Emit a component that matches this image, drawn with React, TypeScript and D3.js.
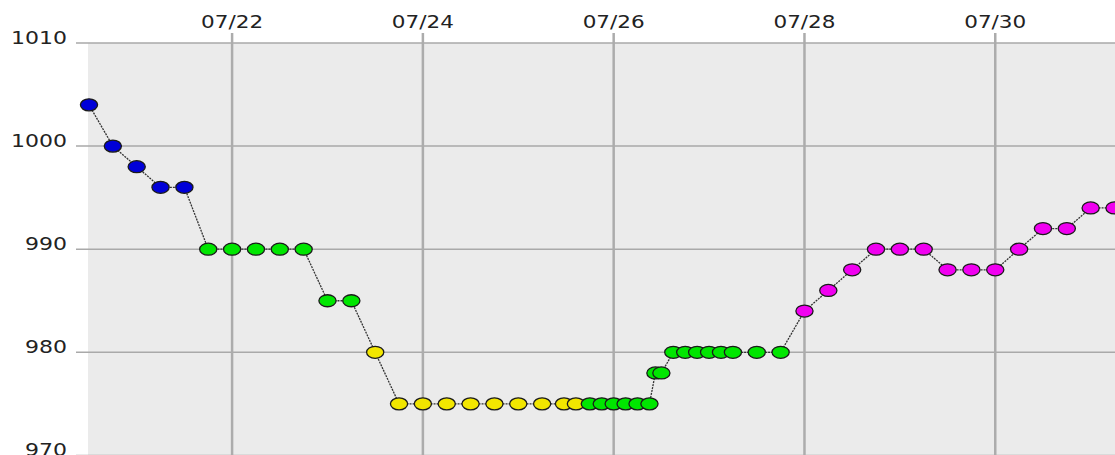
import React from "react"
import * as d3 from "d3"

// observation times (UTC), pressure (hPa) and the colour class of each point
const times = [
  "2024-07-20T12:00", "2024-07-20T18:00", "2024-07-21T00:00", "2024-07-21T06:00",
  "2024-07-21T12:00", "2024-07-21T18:00", "2024-07-22T00:00", "2024-07-22T06:00",
  "2024-07-22T12:00", "2024-07-22T18:00", "2024-07-23T00:00", "2024-07-23T06:00",
  "2024-07-23T12:00", "2024-07-23T18:00", "2024-07-24T00:00", "2024-07-24T06:00",
  "2024-07-24T12:00", "2024-07-24T18:00", "2024-07-25T00:00", "2024-07-25T06:00",
  "2024-07-25T11:30", "2024-07-25T14:30", "2024-07-25T18:00", "2024-07-25T21:00",
  "2024-07-26T00:00", "2024-07-26T03:00", "2024-07-26T06:00", "2024-07-26T09:00",
  "2024-07-26T10:30", "2024-07-26T12:00", "2024-07-26T15:00", "2024-07-26T18:00",
  "2024-07-26T21:00", "2024-07-27T00:00", "2024-07-27T03:00", "2024-07-27T06:00",
  "2024-07-27T12:00", "2024-07-27T18:00", "2024-07-28T00:00", "2024-07-28T06:00",
  "2024-07-28T12:00", "2024-07-28T18:00", "2024-07-29T00:00", "2024-07-29T06:00",
  "2024-07-29T12:00", "2024-07-29T18:00", "2024-07-30T00:00", "2024-07-30T06:00",
  "2024-07-30T12:00", "2024-07-30T18:00", "2024-07-31T00:00", "2024-07-31T06:00",
]

const pressure = [
  1004, 1000, 998, 996, 996, 990, 990, 990, 990, 990, 985, 985, 980,
  975, 975, 975, 975, 975, 975, 975, 975, 975, 975, 975, 975, 975, 975, 975,
  978, 978, 980, 980, 980, 980, 980, 980, 980, 980,
  984, 986, 988, 990, 990, 990, 988, 988, 988, 990, 992, 992, 994, 994,
]

const grade = [
  "b", "b", "b", "b", "b", "g", "g", "g", "g", "g", "g", "g", "y",
  "y", "y", "y", "y", "y", "y", "y", "y", "y", "g", "g", "g", "g", "g", "g",
  "g", "g", "g", "g", "g", "g", "g", "g", "g", "g",
  "m", "m", "m", "m", "m", "m", "m", "m", "m", "m", "m", "m", "m", "m",
]

const gradeColors = { b: "#0000d8", g: "#00e600", y: "#f2e600", m: "#f000f0" }

const yTicks = [970, 980, 990, 1000, 1010]
const xTickDays = ["2024-07-22", "2024-07-24", "2024-07-26", "2024-07-28", "2024-07-30"]

const width = 1115
const height = 455
const plotLeft = 88
const plotTop = 43

const parse = s => new Date(s + "Z")

const App = () => {
  const data = times.map((t, i) => ({ t: parse(t), p: pressure[i], g: grade[i] }))

  const x = d3
    .scaleUtc()
    .domain([parse("2024-07-20T12:00"), parse("2024-07-31T06:00")])
    .range([89, 1114.5])

  const y = d3.scaleLinear().domain([970, 1010]).range([455.4, 43])

  const fmt = d3.utcFormat("%m/%d")
  const xTicks = xTickDays.map(d => parse(d + "T00:00"))

  const line = d3
    .line()
    .x(d => x(d.t))
    .y(d => y(d.p))

  const font = "'DejaVu Sans', Verdana, sans-serif"

  return (
    <svg
      width={width}
      height={height}
      style={{ position: "absolute", left: 0, top: 0, display: "block", background: "#fff" }}
    >
      <rect x={plotLeft} y={plotTop} width={width - plotLeft} height={height - plotTop} fill="#ebebeb" />

      {/* horizontal grid + y labels */}
      {yTicks.map(v => (
        <g key={v}>
          <line x1={76} x2={width} y1={y(v)} y2={y(v)} stroke="#a9a9a9" strokeWidth={1.5} />
          <text
            x={67}
            y={y(v) + 0.5}
            textAnchor="end"
            fontFamily={font}
            fontSize={17}
            fill="#222"
            textLength={String(v).length * 14}
            lengthAdjust="spacingAndGlyphs"
          >
            {v}
          </text>
        </g>
      ))}

      {/* vertical grid + date labels */}
      {xTicks.map(d => (
        <g key={+d}>
          <line x1={x(d)} x2={x(d)} y1={33} y2={height} stroke="#acacac" strokeWidth={2.5} />
          <text
            x={x(d)}
            y={28}
            textAnchor="middle"
            fontFamily={font}
            fontSize={17}
            fill="#222"
            textLength={62}
            lengthAdjust="spacingAndGlyphs"
          >
            {fmt(d)}
          </text>
        </g>
      ))}

      <path d={line(data)} fill="none" stroke="#333" strokeWidth={1.3} strokeDasharray="2,1" />

      {data.map((d, i) => (
        <ellipse
          key={i}
          cx={x(d.t)}
          cy={y(d.p)}
          rx={8.6}
          ry={6}
          fill={gradeColors[d.g]}
          stroke="#1a1a1a"
          strokeWidth={1.3}
        />
      ))}
    </svg>
  )
}

export default App
